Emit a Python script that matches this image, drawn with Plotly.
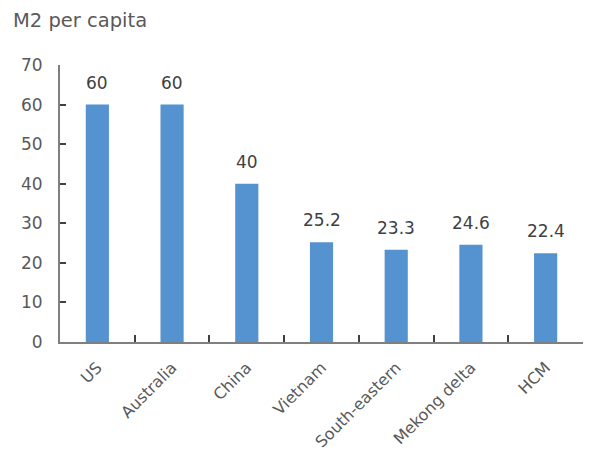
import plotly.graph_objects as go

categories = ["US", "Australia", "China", "Vietnam", "South-eastern", "Mekong delta", "HCM"]
values = [60, 60, 40, 25.2, 23.3, 24.6, 22.4]
labels = ["60", "60", "40", "25.2", "23.3", "24.6", "22.4"]

FONT = "DejaVu Sans"
TXT = "#595959"

fig = go.Figure(go.Bar(
    x=categories, y=values,
    marker=dict(color="#5592d0", line=dict(width=0)),
    cliponaxis=False, hoverinfo="skip",
))
for c, v, t in zip(categories, values, labels):
    fig.add_annotation(x=c, y=v, text=t, showarrow=False, yanchor="middle", yshift=22,
                       font=dict(family=FONT, size=17, color="#404040"))

fig.update_layout(
    width=590, height=450,
    margin=dict(l=60, r=7, t=65, b=108),
    paper_bgcolor="white", plot_bgcolor="white",
    bargap=0.69,
    showlegend=False,
    title=dict(text="M2 per capita", x=13/590, xanchor="left", y=1-20/450, yanchor="middle",
               font=dict(family=FONT, size=19.5, color=TXT)),
    font=dict(family=FONT, color=TXT),
)
fig.update_xaxes(
    showline=True, linecolor="#7f7f7f", linewidth=2,
    ticks="inside", tickson="boundaries", ticklen=7, tickcolor="#404040", tickwidth=1.5,
    tickangle=-45, tickfont=dict(family=FONT, size=16, color=TXT),
    showgrid=False, ticklabelstandoff=8, automargin=False,
)
fig.update_yaxes(
    range=[0, 70], dtick=10, showline=True, linecolor="#7f7f7f", linewidth=2,
    ticks="inside", ticklen=6, tickcolor="#404040", tickwidth=1.5,
    tickfont=dict(family=FONT, size=17, color=TXT),
    showgrid=False, zeroline=False, ticklabelstandoff=12, automargin=False,
)
fig.write_html("out.html")
